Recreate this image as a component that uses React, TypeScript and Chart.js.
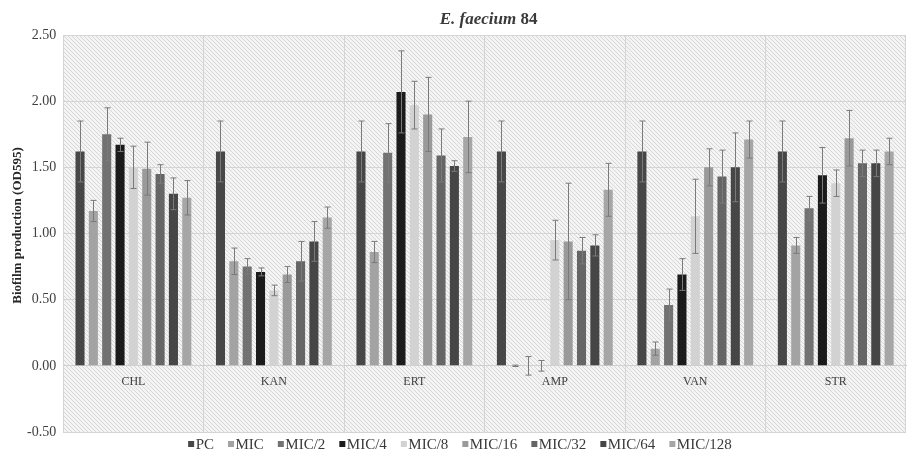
import React, { useEffect, useRef } from "react";
import { Chart, registerables } from "chart.js";

Chart.register(...registerables);

const categories = ["CHL", "KAN", "ERT", "AMP", "VAN", "STR"];
const seriesNames = ["PC", "MIC", "MIC/2", "MIC/4", "MIC/8", "MIC/16", "MIC/32", "MIC/64", "MIC/128"];

const PC = [1.62, 1.62, 1.62, 1.62, 1.62, 1.62];
const PC_ERR = [0.23, 0.23, 0.23, 0.23, 0.23, 0.23];
const MIC = [1.17, 0.79, 0.86, 0.0, 0.13, 0.91];
const MIC_ERR = [0.08, 0.1, 0.08, 0.005, 0.05, 0.06];
const MIC2 = [1.75, 0.75, 1.61, 0.0, 0.46, 1.19];
const MIC2_ERR = [0.2, 0.06, 0.22, 0.07, 0.12, 0.09];
const MIC4 = [1.67, 0.71, 2.07, 0.0, 0.69, 1.44];
const MIC4_ERR = [0.05, 0.03, 0.31, 0.04, 0.12, 0.21];
const MIC8 = [1.5, 0.57, 1.97, 0.95, 1.13, 1.38];
const MIC8_ERR = [0.16, 0.04, 0.18, 0.15, 0.28, 0.1];
const MIC16 = [1.49, 0.69, 1.9, 0.94, 1.5, 1.72];
const MIC16_ERR = [0.2, 0.06, 0.28, 0.44, 0.14, 0.21];
const MIC32 = [1.45, 0.79, 1.59, 0.87, 1.43, 1.53];
const MIC32_ERR = [0.07, 0.15, 0.2, 0.1, 0.2, 0.1];
const MIC64 = [1.3, 0.94, 1.51, 0.91, 1.5, 1.53];
const MIC64_ERR = [0.12, 0.15, 0.04, 0.08, 0.26, 0.1];
const MIC128 = [1.27, 1.12, 1.73, 1.33, 1.71, 1.62];
const MIC128_ERR = [0.13, 0.08, 0.27, 0.2, 0.14, 0.1];

const seriesValues = [PC, MIC, MIC2, MIC4, MIC8, MIC16, MIC32, MIC64, MIC128];
const seriesErrors = [PC_ERR, MIC_ERR, MIC2_ERR, MIC4_ERR, MIC8_ERR, MIC16_ERR, MIC32_ERR, MIC64_ERR, MIC128_ERR];
const seriesColors = ["#474747", "#a3a3a3", "#727272", "#1b1b1b", "#d2d2d2", "#9a9a9a", "#666666", "#464646", "#a6a6a6"];

const yTicks = [-0.5, 0, 0.5, 1.0, 1.5, 2.0, 2.5];

const SERIF = "'Liberation Serif', 'DejaVu Serif', serif";

function makePattern(ctx: CanvasRenderingContext2D) {
  const c = document.createElement("canvas");
  c.width = 4;
  c.height = 4;
  const p = c.getContext("2d")!;
  p.fillStyle = "#f4f4f4";
  p.fillRect(0, 0, 4, 4);
  p.strokeStyle = "#d6d6d6";
  p.lineWidth = 1;
  p.beginPath();
  p.moveTo(-1, -1);
  p.lineTo(5, 5);
  p.moveTo(-1, 3);
  p.lineTo(1, 5);
  p.moveTo(3, -1);
  p.lineTo(5, 1);
  p.stroke();
  return ctx.createPattern(c, "repeat");
}

const bgPlugin = {
  id: "hatchBg",
  beforeDraw(chart: any) {
    const { ctx, chartArea, width, height } = chart;
    ctx.save();
    ctx.fillStyle = "#ffffff";
    ctx.fillRect(0, 0, width, height);
    const pat = makePattern(ctx);
    if (pat) ctx.fillStyle = pat;
    ctx.fillRect(chartArea.left, chartArea.top, chartArea.right - chartArea.left, chartArea.bottom - chartArea.top);
    ctx.restore();
  },
};

const errorBarPlugin = {
  id: "errorBars",
  afterDatasetsDraw(chart: any) {
    const { ctx } = chart;
    const yScale = chart.scales.y;
    ctx.save();
    ctx.strokeStyle = "#7a7a7a";
    ctx.lineWidth = 1;
    chart.data.datasets.forEach((ds: any, di: number) => {
      const meta = chart.getDatasetMeta(di);
      meta.data.forEach((bar: any, i: number) => {
        const v = ds.data[i];
        const e = seriesErrors[di][i];
        const x = Math.round(bar.x) + 0.5;
        const yt = yScale.getPixelForValue(v + e);
        const yb = yScale.getPixelForValue(v - e);
        ctx.beginPath();
        ctx.moveTo(x, yt);
        ctx.lineTo(x, yb);
        ctx.moveTo(x - 3, yt);
        ctx.lineTo(x + 3, yt);
        ctx.moveTo(x - 3, yb);
        ctx.lineTo(x + 3, yb);
        ctx.stroke();
      });
    });
    ctx.restore();
  },
};

const textPlugin = {
  id: "richText",
  afterDraw(chart: any) {
    const { ctx, chartArea } = chart;
    ctx.save();
    // Title
    const part1 = "E. faecium";
    const part2 = " 84";
    ctx.font = `italic bold 17px ${SERIF}`;
    const w1 = ctx.measureText(part1).width;
    ctx.font = `bold 17px ${SERIF}`;
    const w2 = ctx.measureText(part2).width;
    const cx = (chartArea.left + chartArea.right) / 2 + 4;
    const x0 = cx - (w1 + w2) / 2;
    ctx.fillStyle = "#3a3a3a";
    ctx.textBaseline = "middle";
    ctx.textAlign = "left";
    ctx.font = `italic bold 17px ${SERIF}`;
    ctx.fillText(part1, x0, 20);
    ctx.font = `bold 17px ${SERIF}`;
    ctx.fillText(part2, x0 + w1, 20);

    // Y axis title
    ctx.save();
    ctx.translate(18, (chartArea.top + chartArea.bottom) / 2 - 8);
    ctx.rotate(-Math.PI / 2);
    ctx.textAlign = "center";
    ctx.textBaseline = "middle";
    ctx.fillStyle = "#262626";
    ctx.font = `bold 13px ${SERIF}`;
    ctx.fillText("Biofilm production (OD595)", 0, 0);
    ctx.restore();

    // Legend
    ctx.font = `15px ${SERIF}`;
    const box = 6;
    const gapBox = 1.5;
    const gapItem = 14;
    const widths = seriesNames.map((n) => ctx.measureText(n).width);
    const total = widths.reduce((a, w) => a + box + gapBox + w, 0) + gapItem * (seriesNames.length - 1);
    let x = 460 - total / 2;
    const ly = 444;
    ctx.textAlign = "left";
    ctx.textBaseline = "middle";
    seriesNames.forEach((n, i) => {
      ctx.fillStyle = seriesColors[i];
      ctx.fillRect(x, ly - box / 2, box, box);
      ctx.fillStyle = "#3a3a3a";
      ctx.fillText(n, x + box + gapBox, ly + 1);
      x += box + gapBox + widths[i] + gapItem;
    });
    ctx.restore();
  },
};

export default function App() {
  const ref = useRef<HTMLCanvasElement>(null);
  useEffect(() => {
    document.body.style.margin = "0";
    const canvas = ref.current!;
    const chart = new Chart(canvas, {
      type: "bar",
      data: {
        labels: categories,
        datasets: seriesNames.map((name, i) => ({
          label: name,
          data: seriesValues[i],
          backgroundColor: seriesColors[i],
          borderWidth: 0,
          categoryPercentage: 0.855,
          barPercentage: 0.68,
        })),
      },
      options: {
        animation: false,
        responsive: false,
        maintainAspectRatio: false,
        layout: { padding: { top: 35, right: 1, left: 20, bottom: 18 } },
        plugins: {
          title: { display: false },
          tooltip: { enabled: false },
          legend: { display: false },
        },
        scales: {
          x: {
            position: { y: 0 } as any,
            grid: {
              offset: true,
              color: "#d4d4d4",
              drawTicks: false,
            },
            border: { display: true, color: "#cfcfcf" },
            ticks: {
              color: "#404040",
              padding: 9,
              font: { family: SERIF, size: 12 },
            },
          },
          y: {
            min: -0.5,
            max: 2.5,
            afterBuildTicks: (scale: any) => {
              scale.ticks = yTicks.map((v) => ({ value: v }));
            },
            grid: { color: "#d4d4d4", drawTicks: false },
            border: { display: false },
            ticks: {
              color: "#404040",
              padding: 7,
              font: { family: SERIF, size: 14 },
              callback: (v: any) => Number(v).toFixed(2),
            },
          },
        },
      },
      plugins: [bgPlugin, errorBarPlugin, textPlugin],
    });
    return () => chart.destroy();
  }, []);
  return <canvas ref={ref} width={907} height={450} style={{ display: "block" }} />;
}
